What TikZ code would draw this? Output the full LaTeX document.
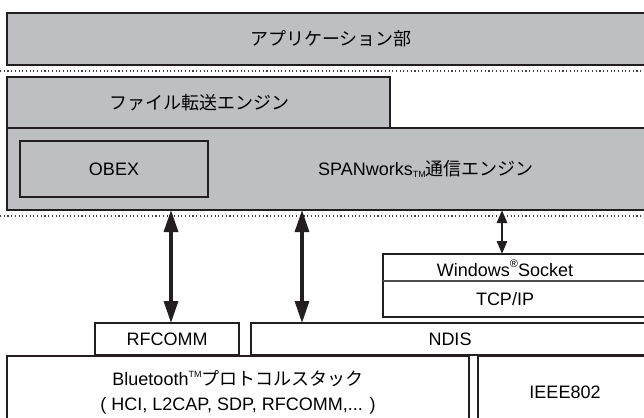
\documentclass[tikz,border=0pt]{standalone}
\usepackage{fontspec}
\setmainfont{Liberation Sans}
\newfontfamily\jp{Noto Sans CJK JP}
\usetikzlibrary{arrows.meta}
\definecolor{layergray}{RGB}{190,191,195}
\definecolor{inkline}{RGB}{35,31,32}
\tikzset{%
    layer/.style={draw=inkline,line width=2.4pt,fill=layergray},
    plain/.style={draw=inkline,line width=2.4pt,fill=white},
    inner/.style={draw=inkline,line width=1.4pt},
    divider/.style={draw=inkline!80,line width=1.2pt},
    boundary/.style={draw=inkline!85,line width=1.1pt,dash pattern=on 1.1pt off 2.6pt},
    txt/.style={font=\fontsize{18}{25}\selectfont,inner sep=0pt,align=center},
    link/.style={{Triangle[length=22pt,width=14pt]}-{Triangle[length=22pt,width=14pt]},line width=3.2pt,draw=inkline},
    shortlink/.style={{Triangle[length=13pt,width=10pt]}-{Triangle[length=13pt,width=10pt]},line width=2.6pt,draw=inkline},
}

\begin{document}
\begin{tikzpicture}[x=1pt,y=-1pt]
    \useasboundingbox (0,0) rectangle (644,417);
    \clip (0,0) rectangle (644,417);

    %upper layers
    \draw[layer] (7,13) rectangle (664,65);
    \draw[boundary] (0,71) -- (644,71);
    \draw[layer] (7,77) rectangle (390,128);
    \draw[layer] (7,128) rectangle (664,210);
    \draw[inner] (20,141) rectangle (208,197);
    \draw[boundary] (0,216) -- (644,216);

    %lower layers
    \draw[plain] (383,254) rectangle (664,317);
    \draw[divider] (383,281) -- (664,281);
    \draw[plain] (95,323) rectangle (239,355);
    \draw[plain] (251,323) rectangle (664,355);
    \draw[plain] (7,356) rectangle (469,440);
    \draw[plain] (478,356) rectangle (664,440);

    %arrows
    \coordinate (rf top) at (171,210);
    \coordinate (rf end) at (171,323);
    \coordinate (nd top) at (302,210);
    \coordinate (nd end) at (302,323);
    \coordinate (ws top) at (502,210);
    \coordinate (ws end) at (502,254);
    \draw[link] (rf top) -- (rf end);
    \draw[link] (nd top) -- (nd end);
    \draw[shortlink] (ws top) -- (ws end);

    %labels
    \node[txt] (app) at (331,39) {\jp アプリケーション部};
    \node[txt] (file) at (199,103) {\jp ファイル転送エンジン};
    \node[txt] (obex) at (114,169) {OBEX};
    \node[txt] (span) at (426,169) {SPANworks\raisebox{-0.25ex}{\fontsize{9}{9}\selectfont TM}{\jp 通信エンジン}};
    \node[txt] (winsock) at (505,268) {Windows\raisebox{0.9ex}{\fontsize{11}{11}\selectfont ®}Socket};
    \node[txt] (tcpip) at (505,299) {TCP/IP};
    \node[txt] (rfcomm) at (167,339) {RFCOMM};
    \node[txt] (ndis) at (450,339) {NDIS};
    \node[txt] (stack) at (238,392) {Bluetooth\raisebox{0.8ex}{\fontsize{9}{9}\selectfont TM}{\jp プロトコルスタック}\\( HCI, L2CAP, SDP, RFCOMM,... )};
    \node[txt] (ieee) at (565,392) {IEEE802};
\end{tikzpicture}
\end{document}
